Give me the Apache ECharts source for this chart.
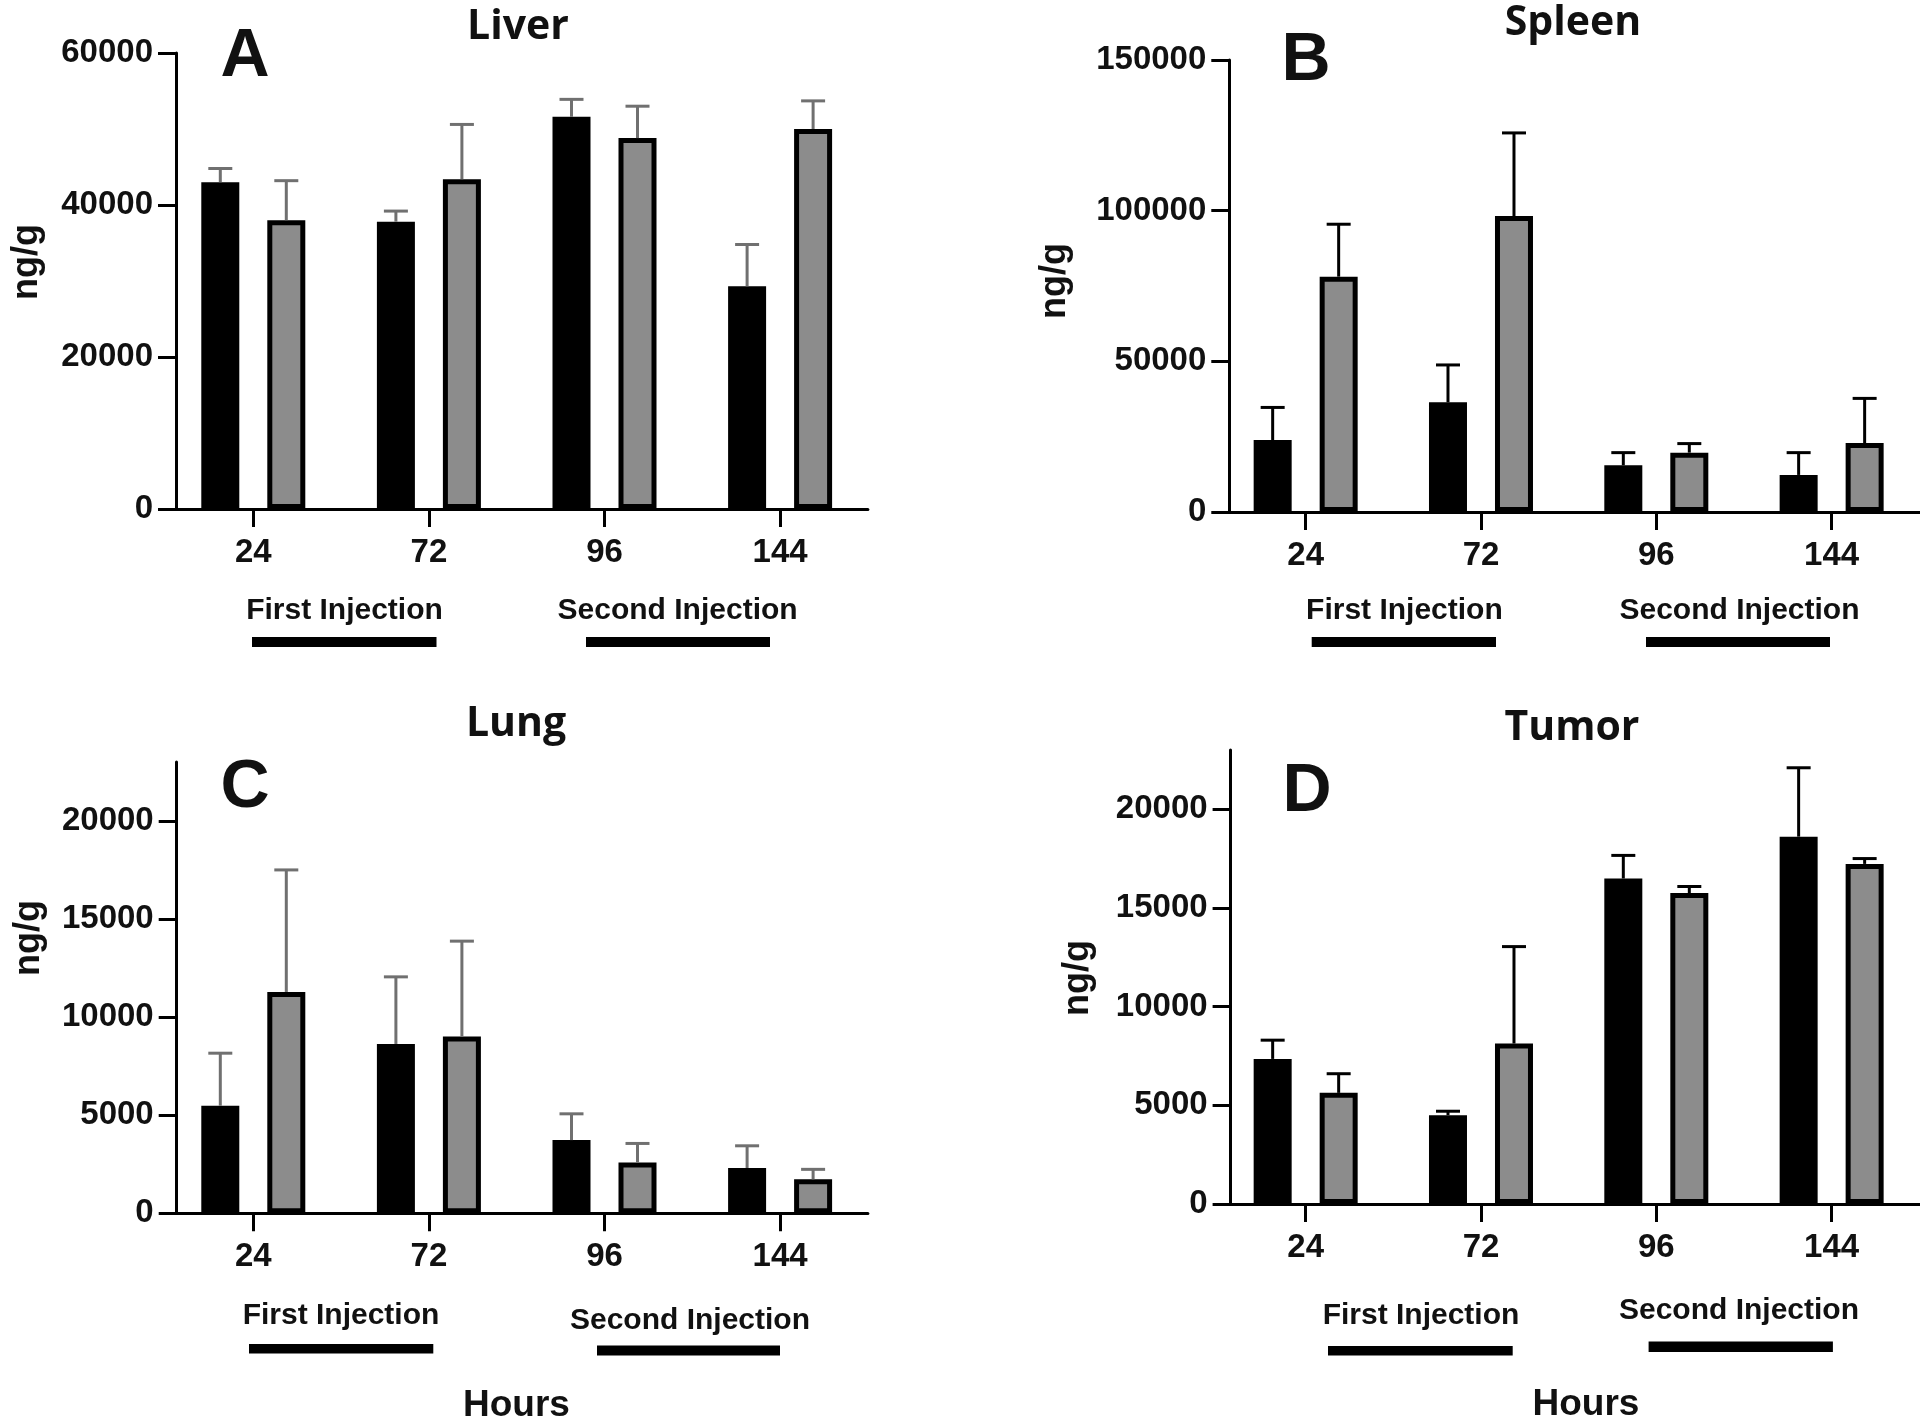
<!DOCTYPE html>
<html>
<head>
<meta charset="utf-8">
<script src="https://cdn.jsdelivr.net/npm/echarts@6/dist/echarts.min.js"></script>
<style>
html,body{margin:0;padding:0;background:#fff;}
#c{width:1920px;height:1428px;}
</style>
</head>
<body>
<div id="c"></div>
<script>
// ---------- DATA ----------
const categories = ['24', '72', '96', '144'];

const liverBlack   = [43000, 37800, 51600, 29300];
const liverBlackSD = [1800, 1400, 2300, 5500];
const liverGray    = [38000, 43400, 48800, 50000];
const liverGraySD  = [5200, 7200, 4200, 3700];

const spleenBlack   = [23900, 36400, 15500, 12300];
const spleenBlackSD = [10800, 12400, 4200, 7400];
const spleenGray    = [78100, 98200, 19700, 22900];
const spleenGraySD  = [17400, 27600, 3000, 14800];

const lungBlack   = [5480, 8630, 3730, 2310];
const lungBlackSD = [2680, 3420, 1340, 1130];
const lungGray    = [11280, 9010, 2590, 1730];
const lungGraySD  = [6220, 4860, 970, 510];

const tumorBlack   = [7350, 4500, 16490, 18610];
const tumorBlackSD = [950, 200, 1170, 3490];
const tumorGray    = [5630, 8130, 15750, 17230];
const tumorGraySD  = [970, 4910, 335, 270];

const liverTicks  = [0, 20000, 40000, 60000];
const spleenTicks = [0, 50000, 100000, 150000];
const lungTicks   = [0, 5000, 10000, 15000, 20000];
const tumorTicks  = [0, 5000, 10000, 15000, 20000];

const liverMax = 60000, spleenMax = 150000, lungMax = 23000, tumorMax = 23000;

const panelTitles  = ['Liver', 'Spleen', 'Lung', 'Tumor'];
const panelLetters = ['A', 'B', 'C', 'D'];
const yAxisTitle = 'ng/g';
const xAxisTitle = 'Hours';
const firstLabel = 'First Injection';
const secondLabel = 'Second Injection';

// ---------- LAYOUT / STYLE ----------
const BAR_W = 38, BAR_BORDER = 5, BAR_GAP = 28, CAP_W = 24;
const TICK_FONT = 'Liberation Sans, Arial, sans-serif';
const GRAY = '#8c8c8c';

const layout = [
  {grid:{left:165.5, top:53, width:702.4, height:456}, yOff:10.5, errColor:'#707070',
   title:[518,27], letter:[245,57], ylab:[27,262],
   first:{t:[344.5,611], r:[252,637,184.5,10]}, second:{t:[677.6,611], r:[586,637,184,10]}, hours:null},
  {grid:{left:1218, top:60, width:701.3, height:452}, yOff:11.3, errColor:'#000',
   title:[1573,23], letter:[1306,61], ylab:[1055,281],
   first:{t:[1404.4,611], r:[1311.7,637,184.3,10]}, second:{t:[1739.5,611], r:[1646,637,184,10]}, hours:null},
  {grid:{left:165.5, top:762, width:702.4, height:451.3}, yOff:11.2, errColor:'#707070',
   title:[516,724], letter:[245,788], ylab:[29,938],
   first:{t:[341,1316], r:[249,1344,184.3,9.5]}, second:{t:[690,1321], r:[597,1345.5,183,10]}, hours:[516.5,1406]},
  {grid:{left:1218, top:750, width:701.3, height:454}, yOff:12.6, errColor:'#000',
   title:[1572,728], letter:[1307,792], ylab:[1078,978],
   first:{t:[1421,1316], r:[1328,1346,184.7,9.5]}, second:{t:[1739,1311], r:[1648.6,1341.5,184.3,10.5]}, hours:[1586,1405]}
];

const panels = [
  {black:liverBlack, blackSD:liverBlackSD, gray:liverGray, graySD:liverGraySD, ticks:liverTicks, max:liverMax},
  {black:spleenBlack, blackSD:spleenBlackSD, gray:spleenGray, graySD:spleenGraySD, ticks:spleenTicks, max:spleenMax},
  {black:lungBlack, blackSD:lungBlackSD, gray:lungGray, graySD:lungGraySD, ticks:lungTicks, max:lungMax},
  {black:tumorBlack, blackSD:tumorBlackSD, gray:tumorGray, graySD:tumorGraySD, ticks:tumorTicks, max:tumorMax}
];

const SHIFT = (BAR_W + BAR_GAP) / 2;

function errRender(shift, color) {
  return function (params, api) {
    const i = api.value(0);
    const p0 = api.coord([i, api.value(1)]);
    const p1 = api.coord([i, api.value(2)]);
    const x = p0[0] + shift;
    const h = CAP_W / 2;
    return {
      type: 'group',
      children: [
        {type:'line', shape:{x1:x, y1:p0[1], x2:x, y2:p1[1]}, style:{stroke:color, lineWidth:3}},
        {type:'line', shape:{x1:x-h, y1:p1[1], x2:x+h, y2:p1[1]}, style:{stroke:color, lineWidth:3}}
      ]
    };
  };
}

const grids = [], xAxes = [], yAxes = [], series = [], graphics = [];

function txt(pos, text, font, rot) {
  const el = {
    type:'text', x:pos[0], y:pos[1], z:100,
    style:{text:text, font:font, fill:'#111',
      align:'center', verticalAlign:'middle', textAlign:'center', textVerticalAlign:'middle'}
  };
  if (rot) el.rotation = rot;
  return el;
}
function bar(r) {
  return {type:'rect', z:100, shape:{x:r[0], y:r[1], width:r[2], height:r[3]}, style:{fill:'#000'}};
}

panels.forEach((p, k) => {
  const L = layout[k];
  grids.push(Object.assign({containLabel:false, outerBoundsMode:'none'}, L.grid));
  xAxes.push({
    type:'category', gridIndex:k, data:categories,
    axisLine:{show:true, lineStyle:{color:'#000', width:3}},
    axisTick:{show:true, alignWithLabel:true, length:18, lineStyle:{color:'#000', width:3}},
    axisLabel:{show:true, margin:27, fontSize:33, fontWeight:'bold', fontFamily:TICK_FONT, color:'#111'},
    splitLine:{show:false}
  });
  yAxes.push({
    type:'value', gridIndex:k, min:0, max:p.max, interval:p.ticks[1]-p.ticks[0],
    offset:-L.yOff,
    axisLine:{show:true, lineStyle:{color:'#000', width:3}},
    axisTick:{show:true, length:18, lineStyle:{color:'#000', width:3}, customValues:p.ticks},
    axisLabel:{show:true, margin:23, fontSize:33, fontWeight:'bold', fontFamily:TICK_FONT, color:'#111',
      customValues:p.ticks, formatter:function(v){ return String(v); }},
    splitLine:{show:false}
  });
  series.push({
    type:'bar', xAxisIndex:k, yAxisIndex:k, data:p.black,
    barWidth:BAR_W, barGap:(BAR_GAP/BAR_W*100)+'%',
    itemStyle:{color:'#000', borderColor:'#000', borderWidth:BAR_BORDER}, z:2
  });
  series.push({
    type:'bar', xAxisIndex:k, yAxisIndex:k, data:p.gray,
    barWidth:BAR_W, barGap:(BAR_GAP/BAR_W*100)+'%',
    itemStyle:{color:GRAY, borderColor:'#000', borderWidth:BAR_BORDER}, z:2
  });
  series.push({
    type:'custom', xAxisIndex:k, yAxisIndex:k, z:3,
    renderItem:errRender(-SHIFT, L.errColor),
    encode:{x:0, y:[1,2]},
    data:categories.map((c,i)=>[i, p.black[i], p.black[i]+p.blackSD[i]])
  });
  series.push({
    type:'custom', xAxisIndex:k, yAxisIndex:k, z:3,
    renderItem:errRender(SHIFT, L.errColor),
    encode:{x:0, y:[1,2]},
    data:categories.map((c,i)=>[i, p.gray[i], p.gray[i]+p.graySD[i]])
  });

  graphics.push(txt(L.title, panelTitles[k], 'bold 41px "Open Sans", sans-serif'));
  graphics.push(txt(L.letter, panelLetters[k], 'bold 68px "Liberation Sans", Arial, sans-serif'));
  graphics.push(txt(L.ylab, yAxisTitle, 'bold 36px "Liberation Sans", Arial, sans-serif', Math.PI/2));
  graphics.push(txt(L.first.t, firstLabel, 'bold 30px "Liberation Sans", Arial, sans-serif'));
  graphics.push(txt(L.second.t, secondLabel, 'bold 30px "Liberation Sans", Arial, sans-serif'));
  graphics.push(bar(L.first.r));
  graphics.push(bar(L.second.r));
  if (L.hours) graphics.push(txt(L.hours, xAxisTitle, 'bold 37px "Liberation Sans", Arial, sans-serif'));
});

const chart = echarts.init(document.getElementById('c'), null, {renderer:'canvas'});
chart.setOption({
  backgroundColor:'#fff',
  animation:false,
  grid:grids, xAxis:xAxes, yAxis:yAxes, series:series,
  graphic:{elements:graphics}
});
</script>
</body>
</html>
